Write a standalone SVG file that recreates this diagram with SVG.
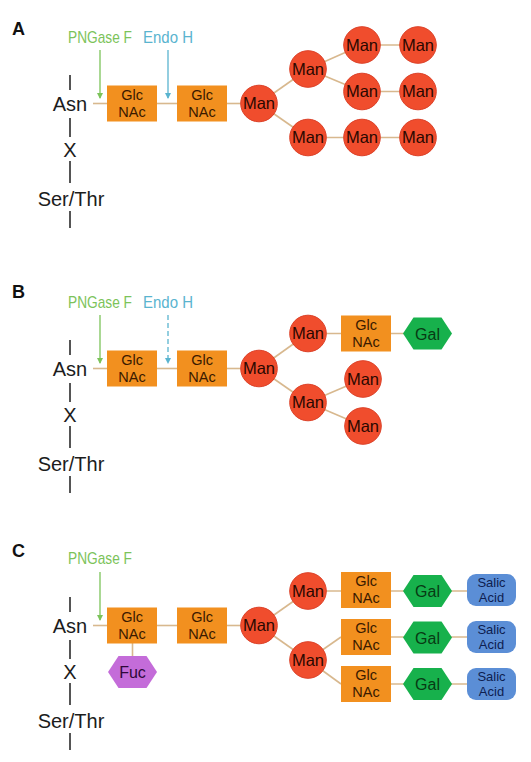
<svg xmlns="http://www.w3.org/2000/svg" xmlns:xlink="http://www.w3.org/1999/xlink" width="531" height="762" viewBox="0 0 531 762">
<style>
  .bg{fill:#ffffff}
  .panel{font-family:"Liberation Sans",Arial,sans-serif;font-weight:bold;font-size:18px;fill:#111}
  .pep{font-family:"Liberation Sans",Arial,sans-serif;font-size:20px;fill:#1c1c1c;text-anchor:middle}
  .pepline{stroke:#555;stroke-width:2;fill:none}
  .png{font-family:"Liberation Sans",Arial,sans-serif;font-size:17px;fill:#7CC35A}
  .endo{font-family:"Liberation Sans",Arial,sans-serif;font-size:17px;fill:#5AB4CF}
  .pngarrow{stroke:#7CC35A;stroke-width:1.3;fill:none}
  .endoarrow{stroke:#5AB4CF;stroke-width:1.3;fill:none}
  .conn{stroke:#D8B88E;stroke-width:1.6;fill:none}
  .glcnac{fill:#F2901F}
  .man{fill:#F04D2D;stroke:#DC4128;stroke-width:1}
  .gal{fill:#17B14C}
  .fuc{fill:#C46CD9}
  .sia{fill:#5B8ED6}
  .lbl{font-family:"Liberation Sans",Arial,sans-serif;font-size:16px;text-anchor:middle}
  .tg{fill:#3A1A00;font-size:14.5px}
  .tm{fill:#2A0800;font-size:16.5px}
  .tgal{fill:#083A14}
  .tfuc{fill:#2E0838}
  .tsia{fill:#0E2050;font-size:13px}
</style>
<defs>
  <rect id="glcnacShape" x="-25" y="-18" width="50" height="36"/>
  <circle id="manShape" r="18.3"/>
  <polygon id="hexShape" points="-24.5,0 -14,-16 14,-16 24.5,0 14,16 -14,16"/>
  <rect id="siaShape" x="-24.5" y="-16" width="49" height="32" rx="9"/>
  <marker id="arrG" viewBox="0 0 6 6" refX="5" refY="3" markerWidth="6" markerHeight="6" markerUnits="userSpaceOnUse" orient="auto">
    <path d="M0,0 L6,3 L0,6 z" fill="#7CC35A"/>
  </marker>
  <marker id="arrB" viewBox="0 0 6 6" refX="5" refY="3" markerWidth="6" markerHeight="6" markerUnits="userSpaceOnUse" orient="auto">
    <path d="M0,0 L6,3 L0,6 z" fill="#5AB4CF"/>
  </marker>
</defs>
<rect class="bg" x="0" y="0" width="531" height="762"/>

<!-- Panel labels -->
<text class="panel" x="12" y="35">A</text>
<text class="panel" x="12" y="298">B</text>
<text class="panel" x="12" y="557">C</text>

<!-- Connectors -->
<g id="connectors">
  <!-- A -->
  <line class="conn" x1="93" y1="103.5" x2="107" y2="103.5"/>
  <line class="conn" x1="157" y1="103.5" x2="177" y2="103.5"/>
  <line class="conn" x1="227" y1="103.5" x2="241" y2="103.5"/>
  <line class="conn" x1="259" y1="103.5" x2="308" y2="69"/>
  <line class="conn" x1="308" y1="69" x2="362" y2="45"/>
  <line class="conn" x1="308" y1="69" x2="362" y2="91.5"/>
  <line class="conn" x1="362" y1="45" x2="418" y2="45"/>
  <line class="conn" x1="362" y1="91.5" x2="418" y2="91.5"/>
  <line class="conn" x1="259" y1="103.5" x2="308" y2="137.5"/>
  <line class="conn" x1="308" y1="137.5" x2="418" y2="137.5"/>
  <!-- B -->
  <line class="conn" x1="93" y1="368.5" x2="107" y2="368.5"/>
  <line class="conn" x1="157" y1="368.5" x2="177" y2="368.5"/>
  <line class="conn" x1="227" y1="368.5" x2="241" y2="368.5"/>
  <line class="conn" x1="259" y1="368.5" x2="308" y2="333.5"/>
  <line class="conn" x1="308" y1="333.5" x2="427.5" y2="333.5"/>
  <line class="conn" x1="259" y1="368.5" x2="308" y2="402.5"/>
  <line class="conn" x1="308" y1="402.5" x2="363" y2="379"/>
  <line class="conn" x1="308" y1="402.5" x2="363" y2="426"/>
  <!-- C -->
  <line class="conn" x1="93" y1="625.5" x2="107" y2="625.5"/>
  <line class="conn" x1="157" y1="625.5" x2="177" y2="625.5"/>
  <line class="conn" x1="227" y1="625.5" x2="241" y2="625.5"/>
  <line class="conn" x1="132.5" y1="643" x2="132.5" y2="657"/>
  <line class="conn" x1="259" y1="625.5" x2="308" y2="591"/>
  <line class="conn" x1="259" y1="625.5" x2="308" y2="660"/>
  <line class="conn" x1="308" y1="591" x2="491" y2="591"/>
  <line class="conn" x1="308" y1="660" x2="341" y2="637"/>
  <line class="conn" x1="308" y1="660" x2="341" y2="684"/>
  <line class="conn" x1="391" y1="637" x2="491" y2="637"/>
  <line class="conn" x1="391" y1="684" x2="491" y2="684"/>
</g>

<!-- Peptide backbones -->
<g id="peptide-A">
  <line class="pepline" x1="70" y1="75" x2="70" y2="90"/>
  <text class="pep" x="70" y="111">Asn</text>
  <line class="pepline" x1="70" y1="118" x2="70" y2="137"/>
  <text class="pep" x="70" y="157">X</text>
  <line class="pepline" x1="70" y1="161" x2="70" y2="183"/>
  <text class="pep" x="71" y="206">Ser/Thr</text>
  <line class="pepline" x1="70" y1="211" x2="70" y2="228"/>
</g>
<g id="peptide-B">
  <line class="pepline" x1="70" y1="340" x2="70" y2="355"/>
  <text class="pep" x="70" y="376">Asn</text>
  <line class="pepline" x1="70" y1="383" x2="70" y2="402"/>
  <text class="pep" x="70" y="422">X</text>
  <line class="pepline" x1="70" y1="426" x2="70" y2="448"/>
  <text class="pep" x="71" y="471">Ser/Thr</text>
  <line class="pepline" x1="70" y1="476" x2="70" y2="493"/>
</g>
<g id="peptide-C">
  <line class="pepline" x1="70" y1="597" x2="70" y2="612"/>
  <text class="pep" x="70" y="633">Asn</text>
  <line class="pepline" x1="70" y1="640" x2="70" y2="659"/>
  <text class="pep" x="70" y="679">X</text>
  <line class="pepline" x1="70" y1="683" x2="70" y2="705"/>
  <text class="pep" x="71" y="728">Ser/Thr</text>
  <line class="pepline" x1="70" y1="733" x2="70" y2="750"/>
</g>

<!-- Enzymes -->
<g id="enzymes-A">
  <text class="png" x="68" y="43" textLength="64" lengthAdjust="spacingAndGlyphs">PNGase F</text>
  <text class="endo" x="143" y="43" textLength="50" lengthAdjust="spacingAndGlyphs">Endo H</text>
  <line class="pngarrow" x1="100" y1="50" x2="100" y2="98" marker-end="url(#arrG)"/>
  <line class="endoarrow" x1="168" y1="50" x2="168" y2="98" marker-end="url(#arrB)"/>
</g>
<g id="enzymes-B">
  <text class="png" x="68" y="308" textLength="64" lengthAdjust="spacingAndGlyphs">PNGase F</text>
  <text class="endo" x="143" y="308" textLength="50" lengthAdjust="spacingAndGlyphs">Endo H</text>
  <line class="pngarrow" x1="100" y1="315" x2="100" y2="363" marker-end="url(#arrG)"/>
  <line class="endoarrow" x1="168" y1="315" x2="168" y2="363" stroke-dasharray="5,3" marker-end="url(#arrB)"/>
</g>
<g id="enzymes-C">
  <text class="png" x="68" y="564" textLength="64" lengthAdjust="spacingAndGlyphs">PNGase F</text>
  <line class="pngarrow" x1="100" y1="572" x2="100" y2="620" marker-end="url(#arrG)"/>
</g>

<!-- Panel A nodes -->
<g id="A-glcnac1" transform="translate(132,103.5)"><use href="#glcnacShape" class="glcnac"/><text class="lbl tg" y="-4">Glc</text><text class="lbl tg" y="13">NAc</text></g>
<g id="A-glcnac2" transform="translate(202,103.5)"><use href="#glcnacShape" class="glcnac"/><text class="lbl tg" y="-4">Glc</text><text class="lbl tg" y="13">NAc</text></g>
<g id="A-man0" transform="translate(259,103.5)"><use href="#manShape" class="man"/><text class="lbl tm" y="5.5">Man</text></g>
<g id="A-man1" transform="translate(308,69)"><use href="#manShape" class="man"/><text class="lbl tm" y="5.5">Man</text></g>
<g id="A-man2" transform="translate(362,45)"><use href="#manShape" class="man"/><text class="lbl tm" y="5.5">Man</text></g>
<g id="A-man3" transform="translate(418,45)"><use href="#manShape" class="man"/><text class="lbl tm" y="5.5">Man</text></g>
<g id="A-man4" transform="translate(362,91.5)"><use href="#manShape" class="man"/><text class="lbl tm" y="5.5">Man</text></g>
<g id="A-man5" transform="translate(418,91.5)"><use href="#manShape" class="man"/><text class="lbl tm" y="5.5">Man</text></g>
<g id="A-man6" transform="translate(308,137.5)"><use href="#manShape" class="man"/><text class="lbl tm" y="5.5">Man</text></g>
<g id="A-man7" transform="translate(362,137.5)"><use href="#manShape" class="man"/><text class="lbl tm" y="5.5">Man</text></g>
<g id="A-man8" transform="translate(418,137.5)"><use href="#manShape" class="man"/><text class="lbl tm" y="5.5">Man</text></g>

<!-- Panel B nodes -->
<g id="B-glcnac1" transform="translate(132,368.5)"><use href="#glcnacShape" class="glcnac"/><text class="lbl tg" y="-4">Glc</text><text class="lbl tg" y="13">NAc</text></g>
<g id="B-glcnac2" transform="translate(202,368.5)"><use href="#glcnacShape" class="glcnac"/><text class="lbl tg" y="-4">Glc</text><text class="lbl tg" y="13">NAc</text></g>
<g id="B-man0" transform="translate(259,368.5)"><use href="#manShape" class="man"/><text class="lbl tm" y="5.5">Man</text></g>
<g id="B-man1" transform="translate(308,333.5)"><use href="#manShape" class="man"/><text class="lbl tm" y="5.5">Man</text></g>
<g id="B-glcnac3" transform="translate(366,333.5)"><use href="#glcnacShape" class="glcnac"/><text class="lbl tg" y="-4">Glc</text><text class="lbl tg" y="13">NAc</text></g>
<g id="B-gal" transform="translate(427.5,333.5)"><use href="#hexShape" class="gal"/><text class="lbl tgal" y="6">Gal</text></g>
<g id="B-man2" transform="translate(308,402.5)"><use href="#manShape" class="man"/><text class="lbl tm" y="5.5">Man</text></g>
<g id="B-man3" transform="translate(363,379)"><use href="#manShape" class="man"/><text class="lbl tm" y="5.5">Man</text></g>
<g id="B-man4" transform="translate(363,426)"><use href="#manShape" class="man"/><text class="lbl tm" y="5.5">Man</text></g>

<!-- Panel C nodes -->
<g id="C-glcnac1" transform="translate(132,625.5)"><use href="#glcnacShape" class="glcnac"/><text class="lbl tg" y="-4">Glc</text><text class="lbl tg" y="13">NAc</text></g>
<g id="C-fuc" transform="translate(132.5,672)"><use href="#hexShape" class="fuc"/><text class="lbl tfuc" y="6">Fuc</text></g>
<g id="C-glcnac2" transform="translate(202,625.5)"><use href="#glcnacShape" class="glcnac"/><text class="lbl tg" y="-4">Glc</text><text class="lbl tg" y="13">NAc</text></g>
<g id="C-man0" transform="translate(259,625.5)"><use href="#manShape" class="man"/><text class="lbl tm" y="5.5">Man</text></g>
<g id="C-man1" transform="translate(308,591)"><use href="#manShape" class="man"/><text class="lbl tm" y="5.5">Man</text></g>
<g id="C-man2" transform="translate(308,660)"><use href="#manShape" class="man"/><text class="lbl tm" y="5.5">Man</text></g>
<g id="C-glcnac3" transform="translate(366,590)"><use href="#glcnacShape" class="glcnac"/><text class="lbl tg" y="-4">Glc</text><text class="lbl tg" y="13">NAc</text></g>
<g id="C-glcnac4" transform="translate(366,637)"><use href="#glcnacShape" class="glcnac"/><text class="lbl tg" y="-4">Glc</text><text class="lbl tg" y="13">NAc</text></g>
<g id="C-glcnac5" transform="translate(366,684)"><use href="#glcnacShape" class="glcnac"/><text class="lbl tg" y="-4">Glc</text><text class="lbl tg" y="13">NAc</text></g>
<g id="C-gal1" transform="translate(427.5,591)"><use href="#hexShape" class="gal"/><text class="lbl tgal" y="6">Gal</text></g>
<g id="C-gal2" transform="translate(427.5,637.5)"><use href="#hexShape" class="gal"/><text class="lbl tgal" y="6">Gal</text></g>
<g id="C-gal3" transform="translate(427.5,684)"><use href="#hexShape" class="gal"/><text class="lbl tgal" y="6">Gal</text></g>
<g id="C-sia1" transform="translate(491.5,590)"><use href="#siaShape" class="sia"/><text class="lbl tsia" y="-3.5">Salic</text><text class="lbl tsia" y="11.5">Acid</text></g>
<g id="C-sia2" transform="translate(491.5,637)"><use href="#siaShape" class="sia"/><text class="lbl tsia" y="-3.5">Salic</text><text class="lbl tsia" y="11.5">Acid</text></g>
<g id="C-sia3" transform="translate(491.5,684)"><use href="#siaShape" class="sia"/><text class="lbl tsia" y="-3.5">Salic</text><text class="lbl tsia" y="11.5">Acid</text></g>
</svg>
